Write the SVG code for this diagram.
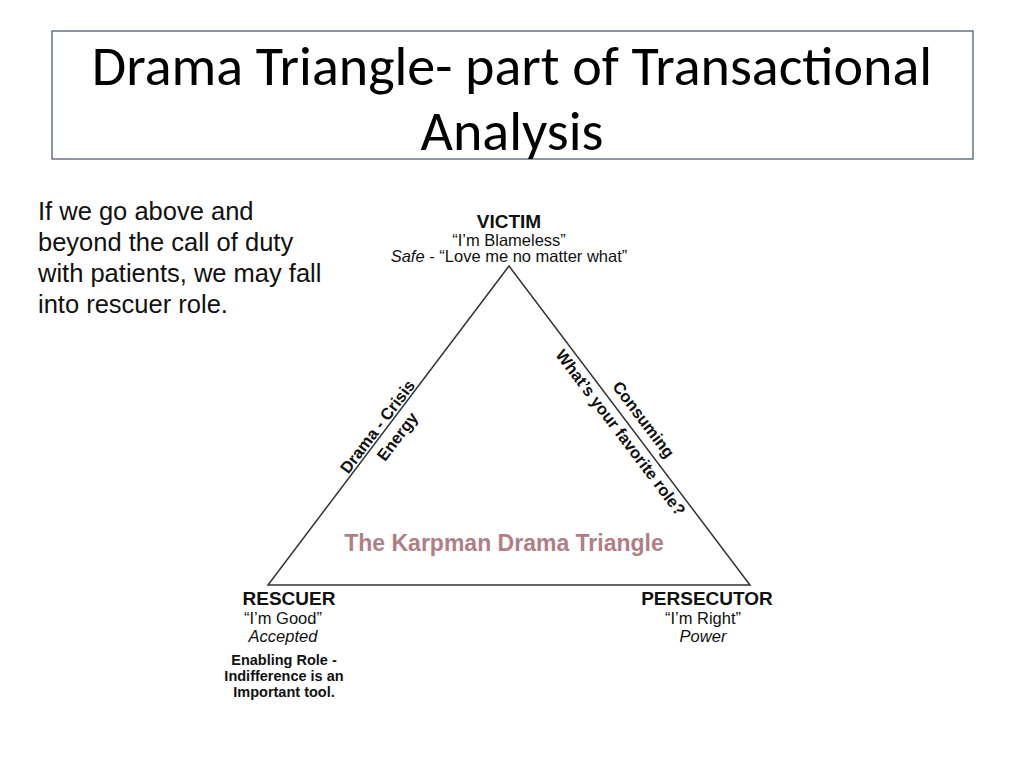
<svg xmlns="http://www.w3.org/2000/svg" width="1024" height="768" viewBox="0 0 1024 768">
<style>
.t{font-family:"Liberation Sans",Arial,sans-serif;fill:#111}
.b{font-weight:bold}
.i{font-style:italic}
</style>
<rect width="1024" height="768" fill="#fff"/>
<g id="title">
<rect x="52" y="31" width="921" height="128" fill="none" stroke="#3d5066" stroke-width="1.2"/>
<text x="512" y="85" text-anchor="middle" font-family="Carlito,'Open Sans',sans-serif" font-size="56" fill="#000">Drama Triangle- part of Transactional</text>
<text x="512" y="150" text-anchor="middle" font-family="Carlito,'Open Sans',sans-serif" font-size="56" fill="#000">Analysis</text>
</g>
<g id="note" class="t" font-size="25.5" fill="#000">
<text x="38" y="220">If we go above and</text>
<text x="38" y="251">beyond the call of duty</text>
<text x="38" y="282">with patients, we may fall</text>
<text x="38" y="313">into rescuer role.</text>
</g>
<g id="connectors">
<polygon points="509,266 268,585 750,585" fill="none" stroke="#333" stroke-width="1.5"/>
</g>
<g id="victim" class="t" text-anchor="middle">
<text x="509" y="228" font-size="19" class="b t">VICTIM</text>
<text x="509" y="246" font-size="16.5" class="t">“I’m Blameless”</text>
<text x="509" y="262" font-size="16.5" class="t"><tspan class="i">Safe</tspan> - “Love me no matter what”</text>
</g>
<g id="rescuer" class="t" text-anchor="middle">
<text x="289" y="605" font-size="19" class="b t">RESCUER</text>
<text x="283" y="624" font-size="16.5" class="t">“I’m Good”</text>
<text x="283" y="642" font-size="16.5" class="t i">Accepted</text>
<text x="284" y="665" font-size="14.5" class="t b">Enabling Role -</text>
<text x="284" y="681" font-size="14.5" class="t b">Indifference is an</text>
<text x="284" y="697" font-size="14.5" class="t b">Important tool.</text>
</g>
<g id="persecutor" class="t" text-anchor="middle">
<text x="707" y="605" font-size="19" class="b t">PERSECUTOR</text>
<text x="703" y="624" font-size="16.5" class="t">“I’m Right”</text>
<text x="703" y="642" font-size="16.5" class="t i">Power</text>
</g>
<g id="edge-labels" class="t b" font-size="16.5" text-anchor="middle">
<text transform="translate(378,427) rotate(-52.9)" class="t b" dy="5">Drama - Crisis</text>
<text transform="translate(398,437) rotate(-52.9)" class="t b" dy="5">Energy</text>
<text transform="translate(643,420) rotate(52.9)" class="t b" dy="5">Consuming</text>
<text transform="translate(620,433) rotate(52.9)" class="t b" dy="5">What’s your favorite role?</text>
</g>
<g id="caption">
<text x="504" y="551" text-anchor="middle" font-family="'Liberation Sans',Arial,sans-serif" font-weight="bold" font-size="23" fill="#b07f85">The Karpman Drama Triangle</text>
</g>
</svg>
